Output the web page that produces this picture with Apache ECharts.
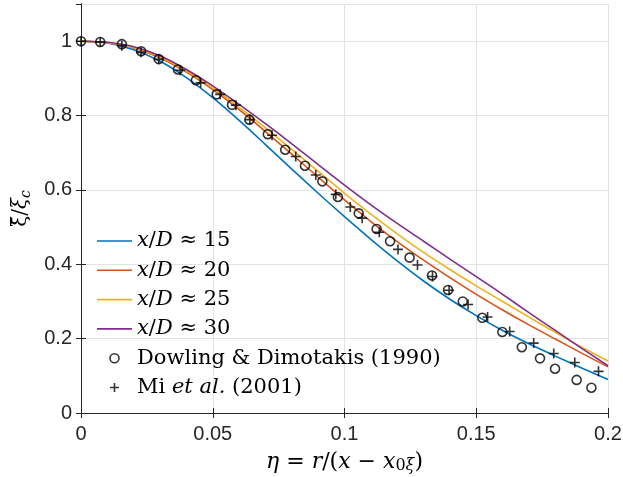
<!DOCTYPE html>
<html>
<head>
<meta charset="utf-8">
<script src="https://cdn.jsdelivr.net/npm/echarts@6/dist/echarts.min.js"></script>
<style>
  html, body { margin: 0; padding: 0; background: #fff; }
  #chart { width: 623px; height: 477px; }
</style>
</head>
<body>
<div id="chart"></div>
<script>
// Radial coordinate eta shared by the four model profiles
const etaGrid = [0, 0.01, 0.02, 0.03, 0.04, 0.05, 0.06, 0.07, 0.08, 0.09, 0.10,
                 0.11, 0.12, 0.13, 0.14, 0.15, 0.16, 0.17, 0.18, 0.19, 0.20];

// Normalised mean mixture fraction profiles at four downstream stations
const profileXD15 = [1.000, 0.995, 0.977, 0.946, 0.902, 0.848, 0.787, 0.722, 0.656, 0.591, 0.528,
                     0.467, 0.409, 0.355, 0.306, 0.262, 0.222, 0.186, 0.153, 0.121, 0.090];
const profileXD20 = [1.000, 0.996, 0.982, 0.955, 0.917, 0.870, 0.816, 0.757, 0.696, 0.634, 0.573,
                     0.515, 0.461, 0.411, 0.364, 0.319, 0.277, 0.237, 0.199, 0.161, 0.124];
const profileXD25 = [1.000, 0.996, 0.983, 0.958, 0.920, 0.874, 0.822, 0.767, 0.709, 0.650, 0.591,
                     0.535, 0.482, 0.432, 0.386, 0.342, 0.300, 0.258, 0.217, 0.177, 0.140];
const profileXD30 = [1.000, 0.997, 0.985, 0.961, 0.924, 0.880, 0.830, 0.778, 0.724, 0.668, 0.613,
                     0.560, 0.510, 0.462, 0.414, 0.367, 0.319, 0.270, 0.222, 0.174, 0.127];

// Dowling & Dimotakis (1990) measurements
const dowlingEta = [0.0000, 0.0073, 0.0155, 0.0228, 0.0295, 0.0368, 0.0436, 0.0515, 0.0573, 0.0639,
                    0.0709, 0.0775, 0.0850, 0.0916, 0.0975, 0.1054, 0.1122, 0.1173, 0.1247, 0.1332,
                    0.1393, 0.1449, 0.1523, 0.1599, 0.1673, 0.1742, 0.1799, 0.1881, 0.1937];
const dowlingXi  = [1.000, 0.998, 0.992, 0.973, 0.952, 0.924, 0.895, 0.857, 0.829, 0.789,
                    0.750, 0.708, 0.665, 0.623, 0.581, 0.537, 0.495, 0.462, 0.418, 0.370,
                    0.331, 0.300, 0.256, 0.218, 0.177, 0.147, 0.119, 0.089, 0.068];

// Mi et al. (2001) measurements
const miEta = [0.0000, 0.0073, 0.0155, 0.0228, 0.0295, 0.0376, 0.0454, 0.0528, 0.0588, 0.0641,
               0.0725, 0.0815, 0.0891, 0.0967, 0.1022, 0.1067, 0.1132, 0.1203, 0.1277, 0.1334,
               0.1397, 0.1469, 0.1543, 0.1627, 0.1718, 0.1794, 0.1874, 0.1964];
const miXi  = [1.000, 0.998, 0.988, 0.970, 0.951, 0.922, 0.888, 0.857, 0.828, 0.789,
               0.747, 0.690, 0.640, 0.588, 0.554, 0.524, 0.486, 0.440, 0.398, 0.367,
               0.330, 0.292, 0.258, 0.219, 0.188, 0.160, 0.136, 0.112];

const seriesNames = ['x/D ≈ 15', 'x/D ≈ 20', 'x/D ≈ 25', 'x/D ≈ 30',
                     'Dowling & Dimotakis (1990)', 'Mi et al. (2001)'];
const legendRich = {
  'x/D ≈ 15': '{i|x}{n|/}{i|D}{n| ≈ 15}',
  'x/D ≈ 20': '{i|x}{n|/}{i|D}{n| ≈ 20}',
  'x/D ≈ 25': '{i|x}{n|/}{i|D}{n| ≈ 25}',
  'x/D ≈ 30': '{i|x}{n|/}{i|D}{n| ≈ 30}',
  'Dowling & Dimotakis (1990)': '{n|Dowling & Dimotakis (1990)}',
  'Mi et al. (2001)': '{n|Mi }{i|et al.}{n| (2001)}'
};
const lineColors = ['#0072BD', '#D95319', '#EDB120', '#7E2F8E'];
const profiles = [profileXD15, profileXD20, profileXD25, profileXD30];

const zip = (xs, ys) => xs.map((x, k) => [x, ys[k]]);

const SERIF = '"DejaVu Serif", "Liberation Serif", serif';
const SANS = '"Liberation Sans", Arial, Helvetica, sans-serif';
const AXIS_COLOR = '#262626';
const plusPath = 'path://M5,0L5,10M0,5L10,5';
const legendLinePath = 'path://M0,0L35,0L35,1.6L0,1.6Z';

const mathRich = (size, lh) => ({
  n: { fontFamily: SERIF, fontSize: size, color: '#000', lineHeight: lh },
  i: { fontFamily: SERIF, fontSize: size, fontStyle: 'italic', color: '#000', lineHeight: lh },
  s: { fontFamily: SERIF, fontSize: size - 6, color: '#000', lineHeight: 12, verticalAlign: 'bottom' },
  si: { fontFamily: SERIF, fontSize: size - 6, fontStyle: 'italic', color: '#000', lineHeight: 12, verticalAlign: 'bottom' }
});

const chart = echarts.init(document.getElementById('chart'), null, { renderer: 'canvas' });

const lineSeries = profiles.map((p, k) => ({
  name: seriesNames[k],
  type: 'line',
  data: zip(etaGrid, p),
  smooth: 0.3,
  showSymbol: false,
  symbol: 'none',
  lineStyle: { color: lineColors[k], width: 1.6 },
  itemStyle: { color: lineColors[k] },
  z: 2,
  animation: false
}));

const hollow = { color: 'transparent', borderColor: '#000', borderWidth: 1.6 };

const option = {
  backgroundColor: '#fff',
  animation: false,
  grid: { left: 81, right: 15, top: 4, bottom: 64, containLabel: false, outerBoundsMode: 'none' },
  legend: {
    orient: 'vertical',
    left: 97,
    top: 230,
    padding: 0,
    itemWidth: 35,
    itemHeight: 9,
    itemGap: 7.3,
    data: [
      { name: seriesNames[0], icon: legendLinePath, itemStyle: { color: lineColors[0], borderWidth: 0 } },
      { name: seriesNames[1], icon: legendLinePath, itemStyle: { color: lineColors[1], borderWidth: 0 } },
      { name: seriesNames[2], icon: legendLinePath, itemStyle: { color: lineColors[2], borderWidth: 0 } },
      { name: seriesNames[3], icon: legendLinePath, itemStyle: { color: lineColors[3], borderWidth: 0 } },
      { name: seriesNames[4], itemStyle: hollow },
      { name: seriesNames[5], itemStyle: hollow }
    ],
    formatter: (name) => legendRich[name],
    textStyle: { fontFamily: SERIF, fontSize: 21, color: '#000', lineHeight: 22, rich: mathRich(21, 22) }
  },
  xAxis: [{
    type: 'value', min: 0, max: 0.2, interval: 0.05,
    name: '{i|η}{n| = }{i|r}{n|/(}{i|x}{n| − }{i|x}{s|0}{si|ξ}{n|)}',
    nameLocation: 'middle', nameGap: 37,
    nameTextStyle: { rich: mathRich(22, 24) },
    axisLine: { show: true, lineStyle: { color: AXIS_COLOR, width: 1 } },
    axisTick: { show: true, inside: true, length: 5, lineStyle: { color: AXIS_COLOR } },
    axisLabel: { color: AXIS_COLOR, fontFamily: SANS, fontSize: 20, margin: 11 },
    splitLine: { show: true, lineStyle: { color: '#e3e3e3', width: 1 } }
  }, {
    type: 'value', min: 0, max: 0.2, interval: 0.05, position: 'top',
    axisLine: { show: true, lineStyle: { color: AXIS_COLOR, width: 1 } },
    axisTick: { show: true, inside: true, length: 5, lineStyle: { color: AXIS_COLOR } },
    axisLabel: { show: false }, splitLine: { show: false }
  }],
  yAxis: [{
    type: 'value', min: 0, max: 1.1, interval: 0.2,
    name: '{n|ξ̄}{n|/}{i|ξ}{si|c}',
    nameLocation: 'middle', nameGap: 48, nameRotate: 90,
    nameTextStyle: { rich: mathRich(20, 24) },
    axisLine: { show: true, lineStyle: { color: AXIS_COLOR, width: 1 } },
    axisTick: { show: true, inside: true, length: 5, lineStyle: { color: AXIS_COLOR } },
    axisLabel: { color: AXIS_COLOR, fontFamily: SANS, fontSize: 20, margin: 9, showMaxLabel: false },
    splitLine: { show: true, lineStyle: { color: '#e3e3e3', width: 1 } }
  }, {
    type: 'value', min: 0, max: 1.1, interval: 0.2, position: 'right',
    axisLine: { show: true, lineStyle: { color: AXIS_COLOR, width: 1 } },
    axisTick: { show: true, inside: true, length: 5, lineStyle: { color: AXIS_COLOR } },
    axisLabel: { show: false }, splitLine: { show: false }
  }],
  series: lineSeries.concat([
    {
      name: seriesNames[4],
      type: 'scatter',
      data: zip(dowlingEta, dowlingXi),
      symbol: 'circle',
      symbolSize: 9,
      itemStyle: hollow,
      z: 4,
      animation: false
    },
    {
      name: seriesNames[5],
      type: 'scatter',
      data: zip(miEta, miXi),
      symbol: plusPath,
      symbolSize: 10,
      symbolKeepAspect: true,
      itemStyle: hollow,
      z: 5,
      animation: false
    }
  ])
};

chart.setOption(option);
</script>
</body>
</html>
